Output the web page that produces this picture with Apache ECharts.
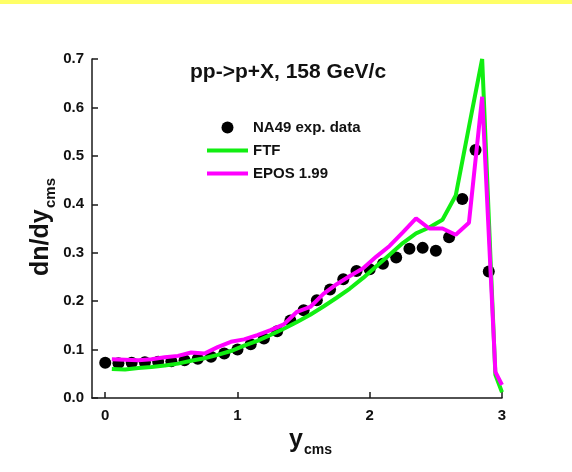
<!DOCTYPE html>
<html>
<head>
<meta charset="utf-8">
<script src="https://cdn.jsdelivr.net/npm/echarts@6/dist/echarts.min.js"></script>
<style>
  html, body { margin: 0; padding: 0; background: #ffffff; }
  #chart { width: 572px; height: 472px; }
</style>
</head>
<body>
<div id="chart"></div>
<script>
// NA49 proton rapidity distribution, pp -> p + X at 158 GeV/c
const expY = [0.0, 0.1, 0.2, 0.3, 0.4, 0.5, 0.6, 0.7, 0.8, 0.9,
              1.0, 1.1, 1.2, 1.3, 1.4, 1.5, 1.6, 1.7, 1.8, 1.9,
              2.0, 2.1, 2.2, 2.3, 2.4, 2.5, 2.6, 2.7, 2.8, 2.9];
const expDnDy = [0.073, 0.072, 0.073, 0.074, 0.075, 0.076, 0.078, 0.081, 0.085, 0.092,
                 0.100, 0.111, 0.123, 0.138, 0.160, 0.181, 0.202, 0.224, 0.245, 0.262,
                 0.266, 0.277, 0.290, 0.308, 0.310, 0.304, 0.332, 0.411, 0.512, 0.261];

// Model calculations (bin centres)
const modelY = [0.05, 0.15, 0.25, 0.35, 0.45, 0.55, 0.65, 0.75, 0.85, 0.95,
                1.05, 1.15, 1.25, 1.35, 1.45, 1.55, 1.65, 1.75, 1.85, 1.95,
                2.05, 2.15, 2.25, 2.35, 2.45, 2.55, 2.65, 2.75, 2.85, 2.95, 3.0];
const ftfDnDy = [0.060, 0.059, 0.062, 0.064, 0.067, 0.071, 0.077, 0.082, 0.089, 0.097,
                 0.108, 0.118, 0.130, 0.143, 0.157, 0.172, 0.189, 0.207, 0.226, 0.248,
                 0.272, 0.296, 0.320, 0.340, 0.352, 0.368, 0.418, 0.560, 0.700, 0.048, 0.012];
const eposDnDy = [0.080, 0.079, 0.078, 0.080, 0.084, 0.087, 0.094, 0.092, 0.105, 0.116,
                  0.121, 0.130, 0.140, 0.152, 0.178, 0.188, 0.215, 0.235, 0.252, 0.268,
                  0.292, 0.314, 0.342, 0.371, 0.350, 0.350, 0.337, 0.362, 0.622, 0.054, 0.027];

const xTickValues = [0, 1, 2, 3];
const seriesNames = ['NA49 exp. data', 'FTF', 'EPOS 1.99'];
const titleText = 'pp->p+X, 158 GeV/c';

const FONT = '"Liberation Sans", Arial, sans-serif';
const LINE_ICON = 'path://M0,0L41,0L41,4L0,4Z';
const pairs = (xs, ys) => xs.map((x, i) => [x, ys[i]]);

const chart = echarts.init(document.getElementById('chart'), null, { renderer: 'canvas' });

chart.setOption({
  animation: false,
  backgroundColor: '#ffffff',
  grid: { left: 92, right: 70, top: 59, bottom: 74, containLabel: false },
  xAxis: {
    type: 'value',
    min: -0.1,
    max: 3,
    splitLine: { show: false },
    axisLine: { onZero: false, lineStyle: { color: '#1a1a1a', width: 1.5 } },
    axisTick: { inside: true, length: 6, customValues: xTickValues, lineStyle: { color: '#1a1a1a', width: 1.5 } },
    axisLabel: {
      customValues: xTickValues,
      margin: 10,
      color: '#111',
      fontFamily: FONT,
      fontWeight: 'bold',
      fontSize: 15,
      formatter: v => String(Math.round(v))
    }
  },
  yAxis: {
    type: 'value',
    min: 0,
    max: 0.7,
    interval: 0.1,
    splitLine: { show: false },
    axisLine: { show: true, onZero: false, lineStyle: { color: '#1a1a1a', width: 1.5 } },
    axisTick: { show: true, inside: true, length: 6, lineStyle: { color: '#1a1a1a', width: 1.5 } },
    axisLabel: {
      margin: 8,
      color: '#111',
      fontFamily: FONT,
      fontWeight: 'bold',
      fontSize: 15,
      formatter: v => v.toFixed(1)
    }
  },
  legend: {
    data: [
      { name: seriesNames[0], icon: 'circle' },
      { name: seriesNames[1], icon: LINE_ICON },
      { name: seriesNames[2], icon: LINE_ICON }
    ],
    orient: 'vertical',
    left: 202,
    top: 115,
    itemWidth: 41,
    itemHeight: 12,
    itemGap: 8,
    symbolKeepAspect: true,
    textStyle: { color: '#111', fontFamily: FONT, fontWeight: 'bold', fontSize: 15 }
  },
  series: [
    {
      name: seriesNames[0],
      type: 'scatter',
      data: pairs(expY, expDnDy),
      symbol: 'circle',
      symbolSize: 12,
      itemStyle: { color: '#000000', opacity: 1 },
      z: 1
    },
    {
      name: seriesNames[1],
      type: 'line',
      data: pairs(modelY, ftfDnDy),
      symbol: 'none',
      lineStyle: { color: '#11ee11', width: 4 },
      itemStyle: { color: '#11ee11' },
      z: 2
    },
    {
      name: seriesNames[2],
      type: 'line',
      data: pairs(modelY, eposDnDy),
      symbol: 'none',
      lineStyle: { color: '#ff00ff', width: 4 },
      itemStyle: { color: '#ff00ff' },
      z: 3
    }
  ],
  graphic: [
    { type: 'rect', left: 0, top: 0, shape: { width: 572, height: 4 }, style: { fill: '#ffff66' } },
    {
      type: 'text', left: 190, top: 62,
      style: { text: titleText, fill: '#111', font: 'bold 21px ' + FONT }
    },
    // x axis title: y with subscript cms
    {
      type: 'group', x: 289, y: 440,
      children: [
        { type: 'text', x: 0, y: 0, style: { text: 'y', fill: '#111', font: 'bold 25px ' + FONT, align: 'left', verticalAlign: 'middle' } },
        { type: 'text', x: 15, y: 10, style: { text: 'cms', fill: '#111', font: 'bold 14px ' + FONT, align: 'left', verticalAlign: 'middle' } }
      ]
    },
    // y axis title: dn/dy with subscript cms, rotated
    {
      type: 'group', x: 41, y: 276, rotation: Math.PI / 2,
      children: [
        { type: 'text', x: 0, y: 0, style: { text: 'dn/dy', fill: '#111', font: 'bold 25px ' + FONT, align: 'left', verticalAlign: 'middle' } },
        { type: 'text', x: 68, y: 10, style: { text: 'cms', fill: '#111', font: 'bold 15px ' + FONT, align: 'left', verticalAlign: 'middle' } }
      ]
    }
  ]
});
</script>
</body>
</html>
